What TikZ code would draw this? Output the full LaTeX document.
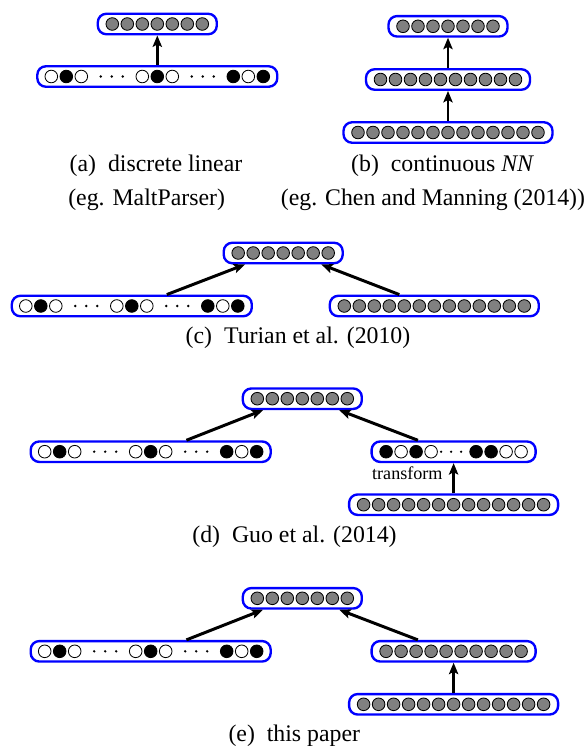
\documentclass[tikz,border=0pt]{standalone}
\usepackage{fontspec}
\setmainfont{Liberation Serif}
\usetikzlibrary{arrows.meta}
\tikzset{
  x=0.42pt, y=-0.42pt,
  layer/.style={draw=blue, line width=1pt, rounded corners=3.6pt, minimum height=8.6pt, inner sep=0pt},
  gc/.style={draw=black, fill=gray, line width=0.35pt},
  bw/.style={draw=black, line width=0.35pt},
  arr/.style={line width=1.25pt, -{Stealth[length=4.8pt, width=3.9pt, inset=1pt]}},
  captxt/.style={anchor=base, inner sep=0pt},
  smalltxt/.style={inner sep=0pt, font=\fontsize{7.6}{9}\selectfont}
}
\newcommand{\grayrow}[3]{%
  \foreach \k in {1,...,#3}{\filldraw[gc] ({#1+(\k-(#3+1)/2)*15},#2) circle[radius=2.65pt];}}
\newcommand{\discrow}[2]{%
  \foreach \dx/\f in {-106/white,-91/black,-76/white,-15/white,0/black,15/white,76/black,91/white,106/black}
    {\filldraw[bw, fill=\f] ({#1+\dx},#2) circle[radius=2.65pt];}%
  \foreach \dx in {-56.5,-45.5,-34.5,34.5,45.5,56.5}
    {\fill ({#1+\dx},#2) circle[radius=0.55pt];}}
\newcommand{\tfrow}[2]{%
  \foreach \dx/\f in {-67.5/black,-52.5/white,-37.5/black,-22.5/white,22.5/black,37.5/black,52.5/white,67.5/white}
    {\filldraw[bw, fill=\f] ({#1+\dx},#2) circle[radius=2.65pt];}%
  \foreach \dx in {-12.5,-2.5,7.5}
    {\fill ({#1+\dx},#2) circle[radius=0.55pt];}}
\begin{document}
\begin{tikzpicture}
\useasboundingbox (0,0) rectangle (587,746);
% ---------- (a)
\node[layer, minimum width=49.98pt] (aT) at (157.3,24) {};
\grayrow{157.3}{24}{7}
\node[layer, minimum width=100.8pt] (aB) at (157.3,76.5) {};
\discrow{157.3}{76.5}
\draw[arr] (aB.north) -- (aT.south);
\node[captxt] (capa) at (156,171) {(a)\hspace{0.5em}discrete linear};
\node[captxt] (capa2) at (146.6,205) {(eg. MaltParser)};
% ---------- (b)
\node[layer, minimum width=49.98pt] (bT) at (448,26.3) {};
\grayrow{448}{26.3}{7}
\node[layer, minimum width=68.88pt] (bM) at (448,79.5) {};
\grayrow{448}{79.5}{10}
\node[layer, minimum width=87.78pt] (bB) at (448,132.5) {};
\grayrow{448}{132.5}{13}
\draw[arr] (bM.north) -- (bT.south);
\draw[arr] (bB.north) -- (bM.south);
\node[captxt] (capb) at (442.7,171) {(b)\hspace{0.5em}continuous \textit{NN}};
\node[captxt] (capb2) at (433,205) {(eg. Chen and Manning (2014))};
% ---------- (c)
\node[layer, minimum width=49.98pt] (cT) at (283.2,253) {};
\grayrow{283.2}{253}{7}
\node[layer, minimum width=100.8pt] (cL) at (131.8,306) {};
\discrow{131.8}{306}
\node[layer, minimum width=87.78pt] (cR) at (434.3,306) {};
\grayrow{434.3}{306}{13}
\draw[arr] ([xshift=14.7pt]cL.north) -- ([xshift=-16pt]cT.south);
\draw[arr] ([xshift=-14.7pt]cR.north) -- ([xshift=16pt]cT.south);
\node[captxt] (capc) at (298,343) {(c)\hspace{0.5em}Turian et al. (2010)};
% ---------- (d)
\node[layer, minimum width=49.98pt] (dT) at (302.3,398.7) {};
\grayrow{302.3}{398.7}{7}
\node[layer, minimum width=100.8pt] (dL) at (150.7,451.7) {};
\discrow{150.7}{451.7}
\node[layer, minimum width=68.88pt] (dR) at (453.6,451.7) {};
\tfrow{453.6}{451.7}
\node[layer, minimum width=87.78pt] (dB) at (453.6,504.7) {};
\grayrow{453.6}{504.7}{13}
\draw[arr] ([xshift=15pt]dL.north) -- ([xshift=-16.5pt]dT.south);
\draw[arr] ([xshift=-15pt]dR.north) -- ([xshift=15.5pt]dT.south);
\draw[arr] (dB.north) -- (dR.south);
\node[smalltxt, anchor=base east] (tf) at (443,479.5) {transform};
\node[captxt] (capd) at (294.5,542.5) {(d)\hspace{0.5em}Guo et al. (2014)};
% ---------- (e)
\node[layer, minimum width=49.98pt] (eT) at (302.3,598.3) {};
\grayrow{302.3}{598.3}{7}
\node[layer, minimum width=100.8pt] (eL) at (150.7,651.3) {};
\discrow{150.7}{651.3}
\node[layer, minimum width=68.88pt] (eR) at (453.6,651.3) {};
\grayrow{453.6}{651.3}{10}
\node[layer, minimum width=87.78pt] (eB) at (453.6,704.3) {};
\grayrow{453.6}{704.3}{13}
\draw[arr] ([xshift=15pt]eL.north) -- ([xshift=-16.5pt]eT.south);
\draw[arr] ([xshift=-15pt]eR.north) -- ([xshift=15.5pt]eT.south);
\draw[arr] (eB.north) -- (eR.south);
\node[captxt] (cape) at (294.3,741) {(e)\hspace{0.5em}this paper};
\end{tikzpicture}
\end{document}
